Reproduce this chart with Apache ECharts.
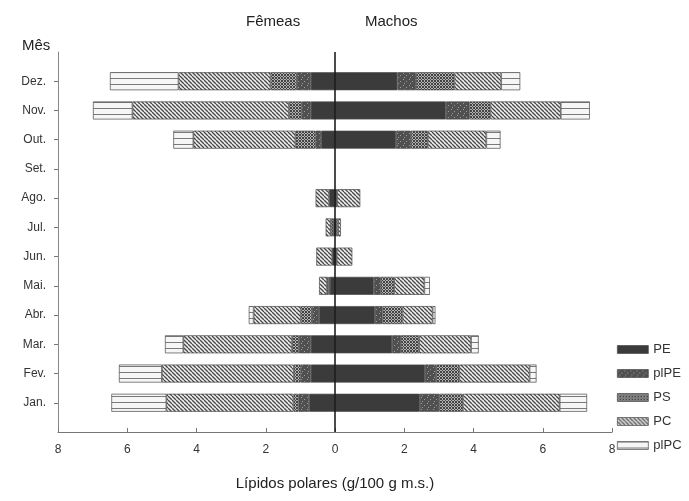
<!DOCTYPE html>
<html>
<head>
<meta charset="utf-8">
<script src="https://cdn.jsdelivr.net/npm/echarts@6/dist/echarts.min.js"></script>
<style>
  html, body { margin: 0; padding: 0; background: #fff; }
  #chart { width: 689px; height: 501px; }
</style>
</head>
<body>
<div id="chart"></div>
<script>
// Months, bottom to top
const months = ['Jan.', 'Fev.', 'Mar.', 'Abr.', 'Mai.', 'Jun.', 'Jul.', 'Ago.', 'Set.', 'Out.', 'Nov.', 'Dez.'];
const xTicks = [-8, -6, -4, -2, 0, 2, 4, 6, 8];

// Females (g/100 g m.s.), stacked from zero outward
const femPE   = [0.75, 0.70, 0.70, 0.46, 0.15, 0.08, 0.05, 0.17, 0, 0.40, 0.70, 0.70];
const femPlPE = [0.30, 0.29, 0.34, 0.20, 0.04, 0,    0,    0,    0, 0.16, 0.26, 0.40];
const femPS   = [0.15, 0.20, 0.20, 0.33, 0.04, 0,    0.07, 0,    0, 0.58, 0.37, 0.76];
const femPC   = [3.67, 3.81, 3.14, 1.36, 0.23, 0.46, 0.15, 0.39, 0, 2.95, 4.52, 2.66];
const femPlPC = [1.59, 1.24, 0.53, 0.14, 0,    0,    0,    0,    0, 0.58, 1.14, 1.98];

// Males (g/100 g m.s.)
const malPE   = [2.45, 2.60, 1.65, 1.15, 1.12, 0.05, 0.03, 0.06, 0, 1.76, 3.20, 1.80];
const malPlPE = [0.56, 0.32, 0.25, 0.22, 0.20, 0,    0,    0,    0, 0.43, 0.68, 0.54];
const malPS   = [0.68, 0.67, 0.53, 0.58, 0.39, 0,    0.06, 0,    0, 0.49, 0.61, 1.11];
const malPC   = [2.80, 2.03, 1.50, 0.87, 0.87, 0.45, 0.08, 0.67, 0, 1.69, 2.03, 1.35];
const malPlPC = [0.79, 0.20, 0.22, 0.08, 0.16, 0,    0,    0,    0, 0.41, 0.84, 0.55];

const FONT = '"Liberation Sans", Arial, Helvetica, sans-serif';

// Fill patterns drawn on small tiles
function tile(w, h, draw) {
  const c = document.createElement('canvas');
  c.width = w; c.height = h;
  draw(c.getContext('2d'));
  return { image: c, repeat: 'repeat' };
}
const fillPE = '#3b3b3b';
const fillPlPE = tile(6, 6, g => {
  g.fillStyle = '#505050'; g.fillRect(0, 0, 6, 6);
  g.fillStyle = '#9c9c9c';
  g.fillRect(1, 1, 1, 1); g.fillRect(4, 3, 1, 1); g.fillRect(2, 5, 1, 1);
});
const fillPS = tile(3, 3, g => {
  g.fillStyle = '#b4b4b4'; g.fillRect(0, 0, 3, 3);
  g.fillStyle = '#444444';
  g.fillRect(0, 0, 1, 1); g.fillRect(2, 0, 1, 1); g.fillRect(1, 1, 1, 1);
  g.fillRect(0, 2, 1, 1); g.fillRect(2, 2, 1, 1);
});
const fillPC = tile(4, 4, g => {
  g.fillStyle = '#efefef'; g.fillRect(0, 0, 4, 4);
  g.strokeStyle = '#474747'; g.lineWidth = 1.3;
  g.beginPath();
  for (let i = -4; i <= 4; i += 4) { g.moveTo(i, 0); g.lineTo(i + 4, 4); }
  g.stroke();
});
const fillPlPC = tile(4, 6, g => {
  g.fillStyle = '#f6f6f6'; g.fillRect(0, 0, 4, 6);
  g.fillStyle = '#7a7a7a'; g.fillRect(0, 0, 4, 1);
});

// Category axis padded with empty slots so the months sit one step inside each end
const cats = [''].concat(months, ['']);
// empty components are left out so no zero-width outline is drawn
const pad = arr => [null].concat(arr.map(v => (v === 0 ? null : v)), [null]);
const neg = arr => arr.map(v => (v === 0 ? 0 : -v));

const parts = [
  { name: 'PE',   fill: fillPE,   f: femPE,   m: malPE },
  { name: 'plPE', fill: fillPlPE, f: femPlPE, m: malPlPE },
  { name: 'PS',   fill: fillPS,   f: femPS,   m: malPS },
  { name: 'PC',   fill: fillPC,   f: femPC,   m: malPC },
  { name: 'plPC', fill: fillPlPC, f: femPlPC, m: malPlPC }
];

const series = [];
parts.forEach((p) => {
  const style = { color: p.fill, borderColor: '#4a4a4a', borderWidth: 0.7 };
  series.push({
    name: p.name, type: 'bar', stack: 'all', barWidth: 18,
    itemStyle: style, data: pad(neg(p.f))
  });
  series.push({
    name: p.name, type: 'bar', stack: 'all', barWidth: 18,
    itemStyle: style, data: pad(p.m)
  });
});

// vertical zero line separating females and males
series.push({
  type: 'line', data: [], silent: true,
  markLine: {
    silent: true, symbol: 'none', label: { show: false },
    lineStyle: { color: '#111', width: 1.5, type: 'solid' },
    data: [{ xAxis: 0 }]
  }
});

const chart = echarts.init(document.getElementById('chart'), null, { renderer: 'canvas' });
chart.setOption({
  animation: false,
  backgroundColor: '#ffffff',
  textStyle: { fontFamily: FONT },
  grid: { left: 58, right: 77, top: 52, bottom: 69, containLabel: false },
  xAxis: {
    type: 'value', min: xTicks[0], max: xTicks[xTicks.length - 1], interval: 2,
    name: 'Lípidos polares (g/100 g m.s.)',
    nameLocation: 'middle', nameGap: 44,
    nameTextStyle: { fontFamily: FONT, fontSize: 15, color: '#222' },
    axisLine: { show: true, onZero: false, lineStyle: { color: '#777', width: 1 } },
    axisTick: { show: true, inside: true, length: 4, lineStyle: { color: '#777' } },
    axisLabel: { fontFamily: FONT, fontSize: 12, color: '#333', margin: 12,
      formatter: v => String(Math.abs(v)) },
    splitLine: { show: false }
  },
  yAxis: {
    type: 'category', data: cats, boundaryGap: false,
    axisLine: { show: true, onZero: false, lineStyle: { color: '#888', width: 1 } },
    axisTick: { show: true, length: 4, lineStyle: { color: '#777' },
      interval: (idx, val) => val !== '' },
    axisLabel: { fontFamily: FONT, fontSize: 12, color: '#333', margin: 12,
      interval: (idx, val) => val !== '' },
    splitLine: { show: false }
  },
  legend: {
    orient: 'vertical', left: 612, top: 338,
    icon: 'rect',
    itemWidth: 31, itemHeight: 8, itemGap: 11,
    data: parts.map(p => p.name),
    textStyle: { fontFamily: FONT, fontSize: 13, color: '#333' },
    itemStyle: { borderColor: '#4a4a4a', borderWidth: 0.7 }
  },
  graphic: [
    { type: 'text', left: 246, top: 14, style: { text: 'Fêmeas', font: '15px ' + FONT, fill: '#222' } },
    { type: 'text', left: 365, top: 14, style: { text: 'Machos', font: '15px ' + FONT, fill: '#222' } },
    { type: 'text', left: 22, top: 38, style: { text: 'Mês', font: '15px ' + FONT, fill: '#222' } }
  ],
  series: series
});
</script>
</body>
</html>
